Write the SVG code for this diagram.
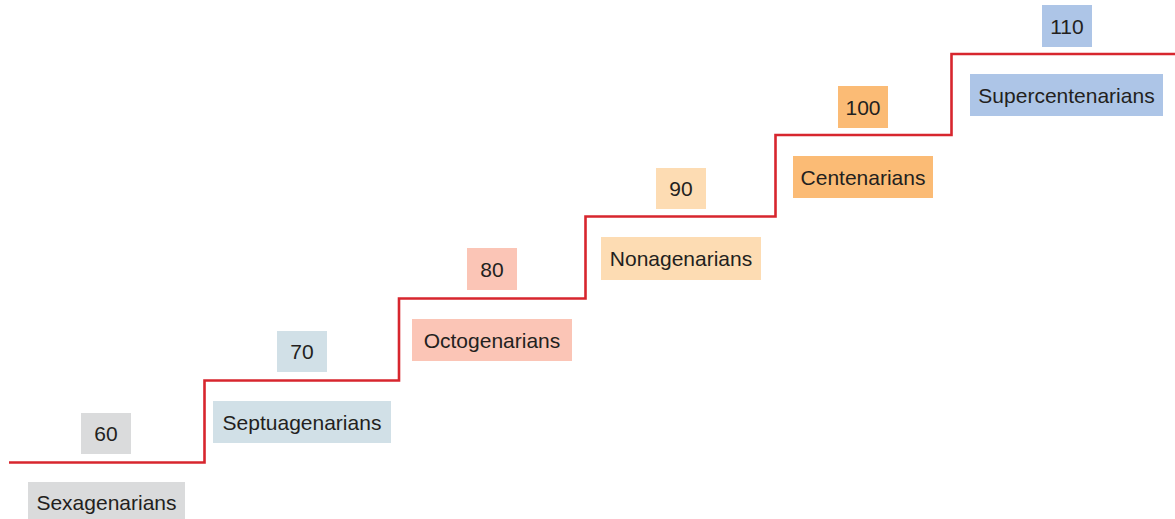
<svg xmlns="http://www.w3.org/2000/svg" width="1175" height="519" viewBox="0 0 1175 519">
<style>
text{font-family:"Liberation Sans",Arial,sans-serif;font-size:21px;fill:#231f20;text-anchor:middle;dominant-baseline:central}
.c60{fill:#dadbdc}.c70{fill:#d1e0e7}.c80{fill:#fbc5b6}.c90{fill:#fddcb3}.c100{fill:#fbbb75}.c110{fill:#adc5e7}
</style>
<rect width="1175" height="519" fill="#fff"/>
<g id="connectors">
<path d="M9 462.5H204.5V380.5H399V298.5H585.5V216.5H775.5V135H951.5V54H1175" fill="none" stroke="#d7262e" stroke-width="2.6"/>
</g>
<g id="n60"><rect class="c60" x="81" y="413" width="50" height="41"/><text x="106" y="433.5">60</text></g>
<g id="sexagenarians"><rect class="c60" x="28" y="482" width="157" height="37"/><text x="106.5" y="502">Sexagenarians</text></g>
<g id="n70"><rect class="c70" x="277" y="331" width="50" height="41"/><text x="302" y="351.5">70</text></g>
<g id="septuagenarians"><rect class="c70" x="213" y="401" width="178" height="42"/><text x="302" y="422">Septuagenarians</text></g>
<g id="n80"><rect class="c80" x="467" y="248" width="50" height="42"/><text x="492" y="269">80</text></g>
<g id="octogenarians"><rect class="c80" x="412" y="319" width="160" height="42"/><text x="492" y="340">Octogenarians</text></g>
<g id="n90"><rect class="c90" x="656" y="168" width="50" height="41"/><text x="681" y="188.5">90</text></g>
<g id="nonagenarians"><rect class="c90" x="601" y="237" width="160" height="43"/><text x="681" y="258">Nonagenarians</text></g>
<g id="n100"><rect class="c100" x="838" y="86" width="50" height="42"/><text x="863" y="107">100</text></g>
<g id="centenarians"><rect class="c100" x="793" y="156" width="140" height="42"/><text x="863" y="177">Centenarians</text></g>
<g id="n110"><rect class="c110" x="1042" y="5" width="50" height="42"/><text x="1067" y="26">110</text></g>
<g id="supercentenarians"><rect class="c110" x="970" y="74" width="193" height="42"/><text x="1066.5" y="95">Supercentenarians</text></g>
</svg>
